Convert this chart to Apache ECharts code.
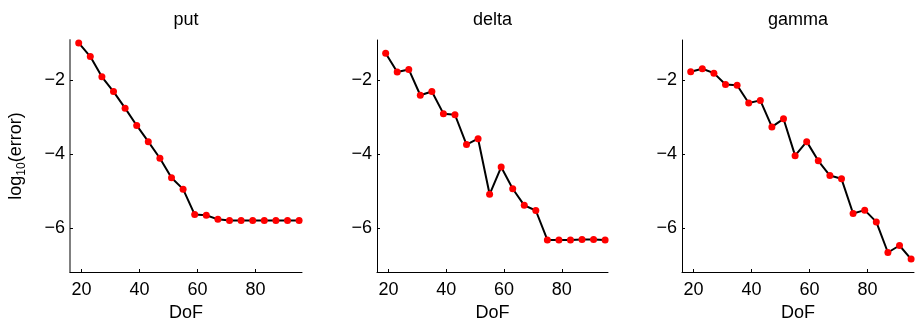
<!DOCTYPE html>
<html>
<head>
<meta charset="utf-8">
<script src="https://cdn.jsdelivr.net/npm/echarts@6/dist/echarts.min.js"></script>
<style>
  html, body { margin: 0; padding: 0; background: #fff; }
  #main { width: 918px; height: 321px; }
</style>
</head>
<body>
<div id="main"></div>
<script>
// DoF values shared by all three panels
const dof = [19, 23, 27, 31, 35, 39, 43, 47, 51, 55, 59, 63, 67, 71, 75, 79, 83, 87, 91, 95];

// log10(error)
const putErr = [-0.98, -1.35, -1.9, -2.3, -2.75, -3.22, -3.66, -4.11, -4.64, -4.95,
  -5.64, -5.66, -5.77, -5.8, -5.8, -5.8, -5.8, -5.8, -5.8, -5.8];
const deltaErr = [-1.26, -1.77, -1.7, -2.4, -2.3, -2.9, -2.93, -3.74, -3.58, -5.09,
  -4.35, -4.94, -5.39, -5.53, -6.33, -6.33, -6.33, -6.32, -6.32, -6.33];
const gammaErr = [-1.76, -1.68, -1.8, -2.11, -2.13, -2.61, -2.54, -3.26, -3.04, -4.04,
  -3.66, -4.18, -4.58, -4.67, -5.61, -5.52, -5.84, -6.67, -6.48, -6.85];

const panelTitles = ["put", "delta", "gamma"];
const xTicks = [20, 40, 60, 80];
const yTicks = [-6, -4, -2];

const font = "Liberation Sans, Arial, Helvetica, sans-serif";
const panels = [putErr, deltaErr, gammaErr];
const lefts = [70, 377, 682];
const widths = [232, 231, 232];

const minus = (v) => String(v).replace("-", "\u2212");

const chart = echarts.init(document.getElementById("main"));

const option = {
  backgroundColor: "#fff",
  animation: false,
  title: panelTitles.map((t, i) => ({
    text: t,
    left: lefts[i] + widths[i] / 2,
    top: 11,
    padding: 0,
    textAlign: "center",
    textStyle: { fontFamily: font, fontSize: 18, fontWeight: "normal", color: "#000" },
  })),
  grid: panels.map((_, i) => ({
    left: lefts[i],
    top: 40,
    width: widths[i],
    height: 232,
    outerBoundsMode: "none",
  })),
  xAxis: panels.map((_, i) => ({
    type: "value",
    gridIndex: i,
    min: 16,
    max: 96,
    name: "DoF",
    nameLocation: "middle",
    nameGap: 30,
    nameTextStyle: { fontFamily: font, fontSize: 18, color: "#000" },
    axisLine: { lineStyle: { color: "#000", width: 1 } },
    axisTick: { inside: true, length: 3, customValues: xTicks, lineStyle: { color: "#000" } },
    axisLabel: {
      customValues: xTicks,
      margin: 9,
      fontFamily: font,
      fontSize: 18,
      color: "#000",
    },
    splitLine: { show: false },
  })),
  yAxis: panels.map((_, i) => ({
    type: "value",
    gridIndex: i,
    min: -7.2,
    max: -0.9,
    name: i === 0 ? "{a|log}{b|10}{a|(error)}" : "",
    nameLocation: "middle",
    nameGap: 42,
    nameTextStyle: {
      rich: {
        a: { fontFamily: font, fontSize: 18, color: "#000", lineHeight: 24, verticalAlign: "middle" },
        b: { fontFamily: font, fontSize: 12, color: "#000", lineHeight: 12, verticalAlign: "bottom" },
      },
    },
    axisLine: {
      show: true,
      lineStyle: i === 0 ? { color: "#808080", width: 2 } : { color: "#000", width: 1 },
    },
    axisTick: { show: true, inside: true, length: 3, customValues: yTicks, lineStyle: { color: "#000" } },
    axisLabel: {
      customValues: yTicks,
      margin: 5,
      fontFamily: font,
      fontSize: 18,
      color: "#000",
      formatter: minus,
    },
    splitLine: { show: false },
  })),
  series: panels.map((vals, i) => ({
    type: "line",
    xAxisIndex: i,
    yAxisIndex: i,
    data: dof.map((d, k) => [d, vals[k]]),
    symbol: "circle",
    symbolSize: 7,
    itemStyle: { color: "#ff0000", borderWidth: 0 },
    lineStyle: { color: "#000", width: 2 },
    z: 3,
  })),
};

chart.setOption(option);
</script>
</body>
</html>
